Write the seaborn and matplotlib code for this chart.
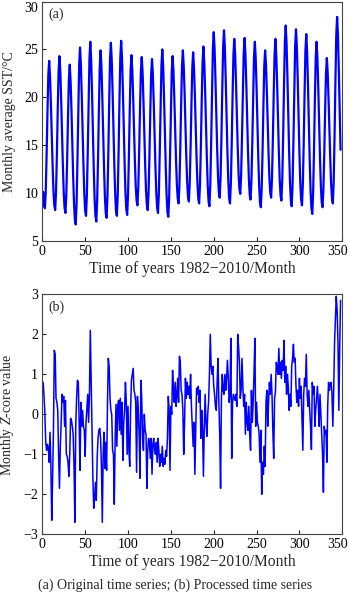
import numpy as np
import pandas as pd
import matplotlib
matplotlib.use("Agg")
import matplotlib.pyplot as plt
from matplotlib.transforms import ScaledTranslation
import seaborn as sns

# ---------------- data ----------------
# monthly average SST (deg C), Jan 1982 .. Dec 2010, one row per year
sst_values = [
    10.1, 8.7, 8.4, 10.2, 13.9, 18.4, 22.3, 23.8, 22.2, 19.4, 16.0, 12.9,
    10.2, 8.7, 8.2, 10.1, 14.0, 18.7, 22.7, 24.3, 22.7, 19.7, 16.1, 12.8,
    10.0, 8.4, 7.9, 9.8, 13.5, 18.0, 21.9, 23.4, 21.7, 18.7, 15.1, 11.7,
    8.9, 7.2, 6.7, 8.9, 13.4, 18.7, 23.4, 25.2, 23.4, 20.3, 16.4, 12.9,
    9.9, 8.1, 7.6, 9.8, 14.2, 19.4, 24.0, 25.8, 23.9, 20.5, 16.4, 12.6,
    9.4, 7.6, 7.0, 9.2, 13.4, 18.6, 23.1, 24.9, 23.2, 20.0, 16.2, 12.7,
    9.7, 7.9, 7.4, 9.6, 14.0, 19.3, 23.9, 25.7, 23.9, 20.6, 16.7, 13.0,
    10.0, 8.1, 7.6, 9.8, 14.2, 19.5, 24.1, 25.9, 24.1, 20.8, 16.8, 13.2,
    10.1, 8.3, 7.7, 9.7, 13.7, 18.6, 22.7, 24.4, 22.8, 20.0, 16.6, 13.4,
    10.7, 9.2, 8.7, 10.6, 14.3, 18.8, 22.7, 24.2, 22.6, 19.7, 16.2, 13.0,
    10.3, 8.7, 8.2, 10.1, 13.9, 18.5, 22.4, 24.0, 22.4, 19.5, 16.0, 12.7,
    10.0, 8.4, 7.9, 10.0, 14.1, 19.0, 23.3, 25.0, 23.3, 20.1, 16.3, 12.8,
    9.8, 8.0, 7.5, 9.5, 13.6, 18.4, 22.6, 24.3, 22.8, 20.0, 16.6, 13.5,
    10.9, 9.4, 8.9, 10.8, 14.7, 19.3, 23.3, 24.9, 23.3, 20.5, 17.0, 13.8,
    11.2, 9.6, 9.1, 11.0, 14.7, 19.2, 23.1, 24.7, 23.1, 20.3, 16.8, 13.6,
    11.0, 9.4, 8.9, 10.9, 14.8, 19.6, 23.7, 25.3, 23.6, 20.6, 17.0, 13.6,
    10.8, 9.1, 8.6, 10.8, 15.2, 20.4, 25.0, 26.8, 25.1, 22.0, 18.2, 14.7,
    11.8, 10.0, 9.5, 11.6, 15.8, 20.9, 25.3, 27.0, 25.2, 21.9, 18.0, 14.3,
    11.3, 9.4, 8.9, 11.0, 15.1, 20.1, 24.4, 26.1, 24.5, 21.6, 18.0, 14.8,
    12.0, 10.4, 9.9, 11.9, 15.8, 20.5, 24.6, 26.2, 24.5, 21.5, 17.8, 14.4,
    11.5, 9.8, 9.3, 11.3, 15.2, 20.0, 24.2, 25.8, 24.1, 21.0, 17.2, 13.7,
    10.8, 9.0, 8.5, 10.5, 14.4, 19.2, 23.3, 24.9, 23.4, 20.6, 17.2, 14.1,
    11.5, 10.0, 9.5, 11.5, 15.5, 20.3, 24.4, 26.1, 24.4, 21.4, 17.7, 14.3,
    11.4, 9.7, 9.2, 11.4, 15.8, 21.1, 25.7, 27.5, 25.6, 22.2, 18.1, 14.3,
    11.1, 9.2, 8.6, 10.8, 15.3, 20.6, 25.3, 27.1, 25.3, 22.0, 17.9, 14.2,
    11.1, 9.3, 8.7, 10.9, 15.1, 20.3, 24.8, 26.6, 24.7, 21.3, 17.2, 13.4,
    10.2, 8.4, 7.8, 10.0, 14.3, 19.5, 24.0, 25.8, 24.1, 21.0, 17.2, 13.7,
    10.8, 9.0, 8.5, 10.4, 14.1, 18.6, 22.5, 24.1, 22.6, 19.8, 16.5, 13.5,
    10.9, 9.4, 8.9, 11.2, 15.9, 21.6, 26.5, 28.4, 26.4, 22.8, 18.5, 14.5,
]

# monthly Z-score of the processed series, Jan 1982 .. Dec 2010
zscore_values = [
    0.8, 0.45, 0.0, -0.7, -0.9, -0.75, -0.85, -1.2, -0.45, -1.3, -2.65, -1.6,
    -0.4, 1.6, 1.5, 0.4, 0.3, 0.1, -1.0, -1.85, -0.8, -0.2, 0.5, 0.3,
    0.45, -0.3, 0.35, -1.0, -1.05, -1.2, -1.55, -1.0, -0.1, -0.15, -0.3, -0.5,
    -1.3, -2.7, -0.3, 0.4, 0.85, 0.8, -0.2, -1.4, 0.3, -0.3, 0.1, -0.3,
    -0.4, -1.05, -0.2, 0.15, 0.5, -0.2, 0.5, 2.1, 0.9, -0.3, -1.6, -2.35,
    -2.1, -1.7, -2.15, -1.1, -0.6, -0.4, -0.35, -0.6, -1.3, -2.7, -1.0, -0.45,
    -1.35, -0.7, -1.4, 0.2, 1.4, 1.2, 0.4, 0.1, 0.0, -0.9, -1.0, -2.25,
    -0.6, 0.25, -0.8, 0.2, 0.35, -0.4, 0.4, -0.5, 0.3, -1.15, -0.2, 0.1,
    0.8, 0.3, -1.0, 0.2, -0.9, -1.3, 0.1, 0.85, 1.0, 1.15, 0.6, 0.5,
    0.3, -1.45, 0.45, 0.1, -0.5, -1.6, 0.85, 0.4, -0.6, -0.9, 0.0, -0.4,
    -0.5, -1.85, -0.9, -0.6, -0.7, -1.1, -0.6, -1.5, -0.75, -0.6, -0.9, -1.0,
    -0.7, -1.2, -0.6, -0.9, -1.3, -1.0, -1.2, -0.8, -1.3, -1.1, -1.25, -0.9,
    -1.05, -0.6, 0.45, 0.1, -1.4, 0.2, 0.0, 1.1, 0.6, 0.3, 0.8, 0.2,
    0.5, 0.9, 0.3, 1.45, 1.3, 0.6, 0.5, 0.1, -1.0, -0.2, 0.9, 0.4,
    0.8, 0.5, 0.7, 0.4, 1.0, 0.2, -0.3, -0.8, -0.2, -1.5, -0.4, 0.65,
    0.5, 0.7, 0.3, 0.6, -0.6, 0.1, -0.4, -1.55, -0.3, 0.5, -0.2, -0.55,
    0.0, 0.3, 1.0, 2.0, 1.2, 1.0, 1.2, 0.7, 0.5, 0.2, 0.1, 0.8,
    1.4, 0.3, -0.5, -1.85, 0.4, 1.0, 0.6, 0.5, 1.0, 0.6, 0.9, 1.35,
    0.9, 0.3, 0.5, 1.9, -1.1, 0.3, 0.5, 0.4, 0.35, 0.5, 0.2, 2.0,
    1.7, 1.3, 0.4, 0.6, 1.4, 0.7, 0.2, 0.5, -0.5, 0.3, -0.2, -0.4,
    0.2, -0.5, -0.9, 0.6, -0.2, 0.3, 1.0, 1.9, -0.3, 0.3, -0.2, -0.3,
    -0.5, -1.2, -0.4, -2.0, -1.2, -1.5, -0.8, -1.3, 0.3, 0.6, -0.3, 0.3,
    0.8, 0.5, 1.0, 0.5, -0.4, -1.1, 0.4, 0.55, 1.3, 1.2, 1.0, 1.65,
    1.0, 1.3, 0.9, 1.35, 1.1, 1.85, 0.8, 1.2, 0.5, 1.0, 0.7, 0.1,
    0.5, 0.2, 1.2, 1.4, 1.75, 1.3, 1.4, 0.7, 0.3, 0.6, 0.2, 0.9,
    0.4, 0.7, -0.1, -0.9, 0.5, 0.9, 0.7, 1.5, 0.5, 0.2, 0.6, 0.1,
    -0.3, -0.88, 0.8, 0.5, 0.7, -0.3, 0.1, 0.4, 0.7, 0.3, -0.3, 0.5,
    0.0, -0.5, -1.0, -1.95, -0.3, -0.5, -0.4, -1.2, 0.2, 0.8, 0.6, 0.75,
    0.8, 0.5, -0.3, 0.6, 1.8, 2.4, 2.95, 2.6, 1.8, 0.1, 1.6, 2.85,
]

months = list(range(1, len(sst_values) + 1))

x_ticks = [0, 50, 100, 150, 200, 250, 300, 350]
sst_ticks = [5, 10, 15, 20, 25, 30]
z_ticks = [-3, -2, -1, 0, 1, 2, 3]

xlabel_text = "Time of years 1982\u22122010/Month"
ylabel_top = "Monthly average SST/\u00b0C"
ylabel_bottom = "Monthly $Z$-core value"
caption_text = "(a) Original time series; (b) Processed time series"

# ---------------- style ----------------
sns.set_style("ticks")
plt.rcParams["font.family"] = ["Liberation Serif", "DejaVu Serif"]
plt.rcParams["mathtext.fontset"] = "custom"
plt.rcParams["mathtext.rm"] = "Liberation Serif"
plt.rcParams["mathtext.it"] = "Liberation Serif:italic"

df_top = pd.DataFrame({"month": months, "sst": sst_values})
df_bot = pd.DataFrame({"month": months, "z": zscore_values})

fig = plt.figure(figsize=(3.5, 5.96), dpi=100)
ax1 = fig.add_axes([0.1209, 0.5961, 0.857, 0.4013])
ax2 = fig.add_axes([0.1209, 0.1035, 0.857, 0.4027])

blue = "#0000FF"
sns.lineplot(data=df_top, x="month", y="sst", ax=ax1, color=blue,
             linewidth=1.6, errorbar=None)
sns.lineplot(data=df_bot, x="month", y="z", ax=ax2, color=blue,
             linewidth=1.1, errorbar=None)

fs = 10
shift_left = ScaledTranslation(-5 / 100, 0, fig.dpi_scale_trans)
for ax, yt, ylim, ylab, tag in [
    (ax1, sst_ticks, (5, 30), ylabel_top, "(a)"),
    (ax2, z_ticks, (-3, 3), ylabel_bottom, "(b)"),
]:
    ax.set_xlim(0, 350)
    ax.set_ylim(*ylim)
    ax.set_xticks(x_ticks)
    ax.set_yticks(yt)
    ax.tick_params(direction="in", length=3, width=0.8, labelsize=fs,
                   colors="#222222", labelcolor="black", pad=3)
    for s in ax.spines.values():
        s.set_visible(True)
        s.set_linewidth(0.8)
        s.set_color("#444444")
    ax.set_xlabel(xlabel_text, fontsize=11.2, labelpad=2)
    ax.set_ylabel(ylab, fontsize=10)
    ax.yaxis.set_label_coords(-0.088, 0.5)
    ax.text(0.02, 0.945, tag, transform=ax.transAxes, fontsize=fs,
            ha="left", va="center")
    # keep the last x tick label ("350") inside the figure
    ax.get_xticklabels()
    for tick in ax.xaxis.get_major_ticks():
        if abs(tick.get_loc() - 350) < 1e-6:
            tick.label1.set_transform(tick.label1.get_transform() + shift_left)

# keep the top "30" label inside the figure
for lbl in ax1.get_yticklabels():
    if lbl.get_text() == "30":
        lbl.set_va("top")

fig.text(0.5, 0.0185, caption_text, ha="center", va="center", fontsize=10)

fig.savefig("out.png", dpi=100)
